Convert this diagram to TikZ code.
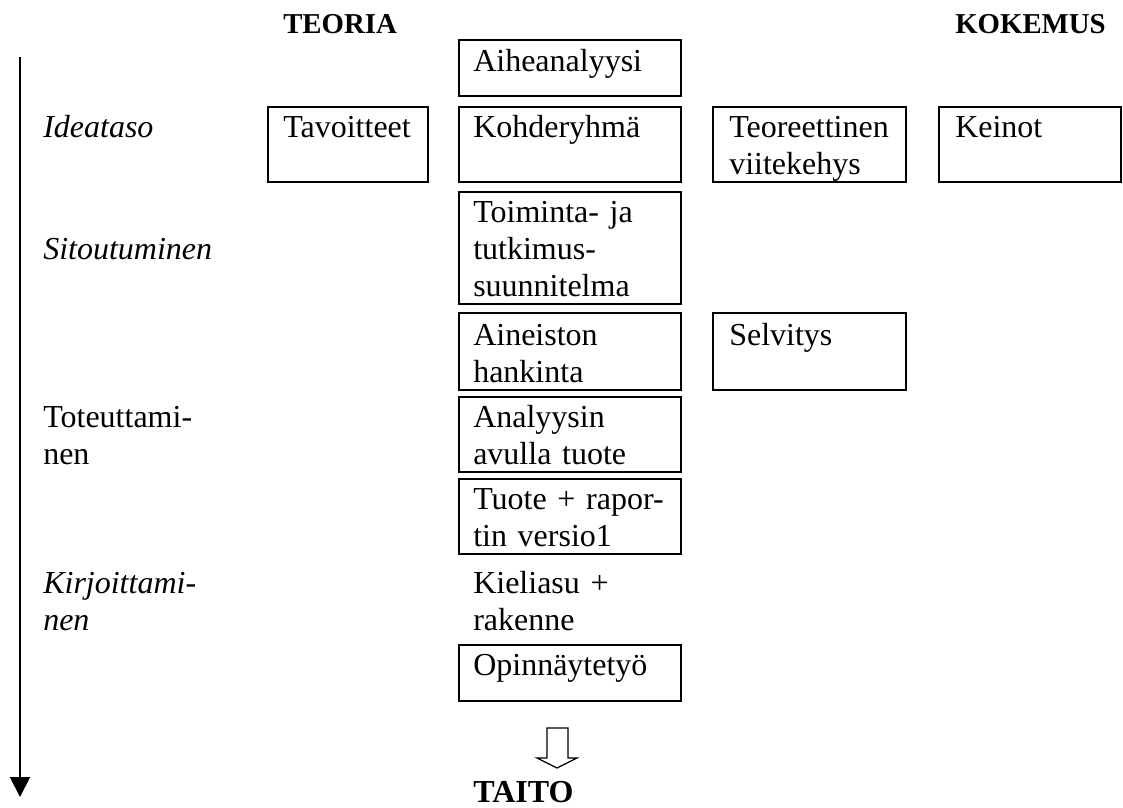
\documentclass[tikz,border=0pt]{standalone}
\usepackage{fontspec}
\setmainfont{Liberation Serif}
\usetikzlibrary{arrows.meta,fit}

\begin{document}
\begin{tikzpicture}[
  x=0.75pt, y=-0.75pt,
  box/.style={draw, line width=1.5pt, inner sep=0pt},
  txt/.style={inner sep=0pt, anchor=base west, align=left, text width=260pt,
              font=\fontsize{24}{28}\selectfont},
  lbl/.style={txt, font=\fontsize{24}{28}\selectfont\itshape},
  head/.style={inner sep=0pt, anchor=base west,
               font=\fontsize{21.6}{26}\selectfont\bfseries}
]
\useasboundingbox (0,0) rectangle (1123,807);

% column headings
\node[head] (teoria) at (283,33) {TEORIA};
\node[head] (kokemus) at (955,33) {KOKEMUS};

% time axis on the left
\coordinate (axtop) at (20,57);
\coordinate (axbot) at (20,797);
\draw[line width=1.5pt, -{Triangle[length=15pt,width=15pt]}] (axtop) -- (axbot);

% phase labels
\node[lbl] (ideataso) at (43,137) {Ideataso};
\node[lbl] (sitout) at (43,259) {Sitoutuminen};
\node[txt] (toteut) at (43,427) {Toteuttami-\\nen};
\node[lbl] (kirjoit) at (43,593) {Kirjoittami-\\nen};

% boxes
\node[box, fit={(459,40)(681,96)}] (aihe) {};
\node[box, fit={(268,107)(428,182)}] (tavo) {};
\node[box, fit={(459,107)(681,182)}] (kohde) {};
\node[box, fit={(713,107)(906,182)}] (teor) {};
\node[box, fit={(939,107)(1121,182)}] (keinot) {};
\node[box, fit={(459,192)(681,304)}] (toim) {};
\node[box, fit={(459,313)(681,390)}] (aine) {};
\node[box, fit={(713,313)(906,390)}] (selv) {};
\node[box, fit={(459,397)(681,472)}] (anal) {};
\node[box, fit={(459,479)(681,554)}] (tuote) {};
\node[box, fit={(459,645)(681,701)}] (opin) {};

% box texts
\node[txt] (aihe-t) at (473,71) {Aiheanalyysi};
\node[txt] (tavo-t) at (283,137) {Tavoitteet};
\node[txt] (kohde-t) at (473,137) {Kohderyhmä};
\node[txt] (teor-t) at (729,137) {Teoreettinen\\viitekehys};
\node[txt] (keinot-t) at (955,137) {Keinot};
\node[txt] (toim-t) at (473,222) {Toiminta- ja\\tutkimus-\\suunnitelma};
\node[txt] (aine-t) at (473,345) {Aineiston\\hankinta};
\node[txt] (selv-t) at (729,345) {Selvitys};
\node[txt] (anal-t) at (473,427) {Analyysin\\avulla tuote};
\node[txt] (tuote-t) at (473,509) {Tuote + rapor-\\tin versio1};
\node[txt] (kieli) at (473,593) {Kieliasu +\\rakenne};
\node[txt] (opin-t) at (473,675) {Opinnäytetyö};

% hollow arrow towards the result
\draw[line width=0.9pt, line join=miter]
  (547,728) -- (568,728) -- (568,758) -- (577,758) -- (557,768)
  -- (537,758) -- (547,758) -- cycle;

\node[inner sep=0pt, anchor=base west, font=\fontsize{24}{28}\selectfont\bfseries]
  (taito) at (473,802) {TAITO};
\end{tikzpicture}
\end{document}
